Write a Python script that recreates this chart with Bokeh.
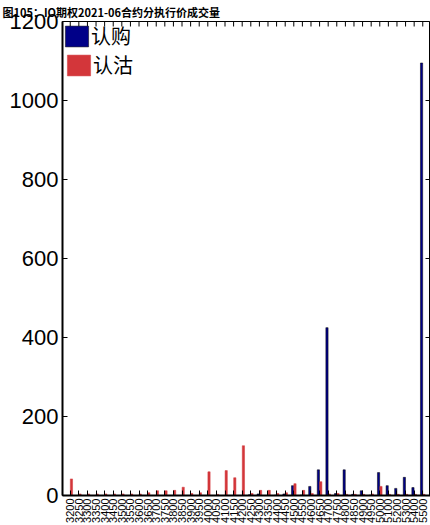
from math import pi
from bokeh.plotting import figure
from bokeh.models import (Range1d, FixedTicker, Legend, LegendItem,
                          ColumnDataSource)
from bokeh.embed import file_html
from bokeh.resources import INLINE

# ---- data ----
strikes = ["3200", "3250", "3300", "3350", "3400", "3450", "3500", "3550", "3600", "3650",
           "3700", "3750", "3800", "3850", "3900", "3950", "4000", "4050", "4100", "4150",
           "4200", "4250", "4300", "4350", "4400", "4450", "4500", "4550", "4600", "4650",
           "4700", "4750", "4800", "4850", "4900", "4950", "5000", "5100", "5200", "5300",
           "5400", "5500"]
call_vol = [0, 0, 0, 0, 0, 0, 0, 0, 0, 0,
            0, 0, 0, 0, 0, 0, 0, 0, 0, 0,
            0, 2, 4, 0, 1, 4, 25, 1, 23, 65,
            425, 5, 65, 3, 12, 1, 58, 25, 18, 46,
            20, 1095]
put_vol = [42, 4, 4, 4, 4, 4, 4, 4, 4, 7,
           12, 12, 13, 21, 5, 7, 60, 3, 63, 45,
           126, 5, 13, 13, 5, 7, 30, 13, 5, 35,
           4, 5, 3, 3, 3, 4, 23, 3, 3, 3,
           3, 3]
y_ticks = [0, 200, 400, 600, 800, 1000, 1200]
series_names = ["认购", "认沽"]
title_text = "图105：IO期权2021-06合约分执行价成交量"

NAVY = "#000088"
RED = "#D3363A"
X0, X1 = -0.9, 41.9
Y0, Y1 = 0, 1200
idx = list(range(len(strikes)))

src = ColumnDataSource(dict(
    xc=[i - 0.14 for i in idx], xp=[i + 0.14 for i in idx],
    call=call_vol, put=put_vol))

p = figure(width=430, height=525, output_backend="svg", toolbar_location=None,
           x_range=Range1d(X0, X1), y_range=Range1d(Y0, Y1),
           min_border_left=62, min_border_right=0, min_border_top=20,
           min_border_bottom=0, background_fill_color="white",
           border_fill_color="white", outline_line_color="black",
           outline_line_width=1)
p.grid.visible = False

p.title.text = title_text
p.title.text_font = "Noto Sans CJK SC"
p.title.text_font_size = "11px"
p.title.text_font_style = "bold"
p.title.text_color = "black"
p.title.align = "left"
p.title.standoff = 3
p.title.offset = -60

r_call = p.vbar(x="xc", top="call", width=0.26, source=src, fill_color=NAVY,
                line_color="black", line_width=0.5)
r_put = p.vbar(x="xp", top="put", width=0.26, source=src, fill_color=RED,
               line_color=RED, line_width=0.5)

# inside tick marks along the top and right edges of the box
p.scatter(x=idx, y=[Y1] * len(idx), marker="dash", angle=pi / 2, size=10,
          line_color="black", line_width=1)
p.scatter(x=[X1] * len(y_ticks), y=y_ticks, marker="dash", size=10,
          line_color="black", line_width=1)

FONT = "Liberation Sans"

# bottom axis
xa = p.xaxis[0]
xa.ticker = FixedTicker(ticks=idx)
xa.major_label_overrides = {i: s for i, s in enumerate(strikes)}
xa.major_label_orientation = pi / 2
xa.major_label_text_font = FONT
xa.major_label_text_font_size = "11px"
xa.major_label_text_color = "black"
xa.major_label_standoff = 3
xa.major_tick_in = 5
xa.major_tick_out = 0
xa.minor_tick_in = 0
xa.minor_tick_out = 0
xa.axis_line_width = 2
xa.axis_line_color = "black"

# left axis
ya = p.yaxis[0]
ya.ticker = FixedTicker(ticks=y_ticks)
ya.major_label_text_font = FONT
ya.major_label_text_font_size = "22px"
ya.major_label_text_color = "black"
ya.major_label_standoff = 4
ya.major_tick_in = 5
ya.major_tick_out = 0
ya.minor_tick_in = 0
ya.minor_tick_out = 0
ya.axis_line_width = 2
ya.axis_line_color = "black"

legend_style = dict(padding=0, spacing=0, glyph_width=29, glyph_height=26,
                    label_height=22, label_standoff=0,
                    label_text_font="Noto Sans CJK SC",
                    label_text_font_size="20px", label_text_color="black",
                    border_line_alpha=0, background_fill_alpha=0)
legend1 = Legend(items=[LegendItem(label=series_names[0], renderers=[r_call])],
                 location="top_left", margin=0, **legend_style)
legend2 = Legend(items=[LegendItem(label=series_names[1], renderers=[r_put])],
                 location=(2, 416), margin=0, **legend_style)
p.add_layout(legend1)
p.add_layout(legend2)

open("out.html", "w").write(file_html(p, INLINE))
